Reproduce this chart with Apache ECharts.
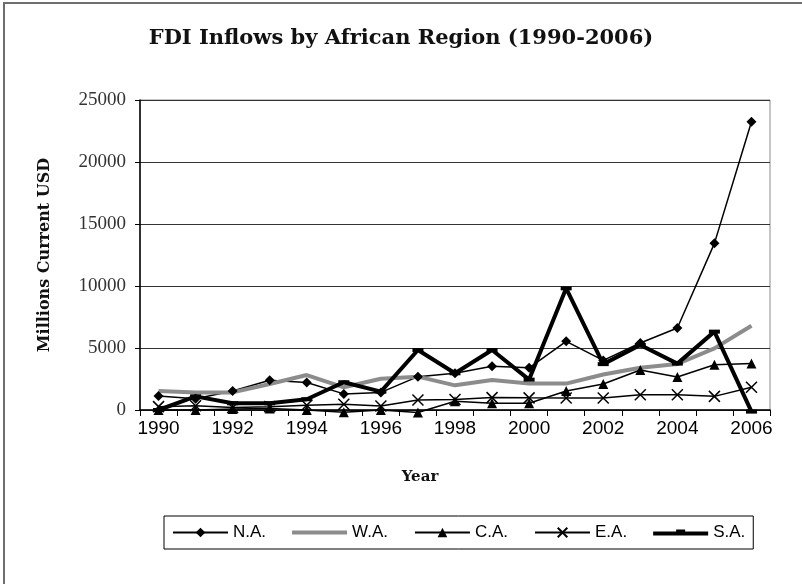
<!DOCTYPE html>
<html>
<head>
<meta charset="utf-8">
<title>FDI Inflows by African Region</title>
<script src="https://cdn.jsdelivr.net/npm/echarts@6/dist/echarts.min.js"></script>
<style>
  html, body { margin: 0; padding: 0; background: #fff; }
  #chart { width: 802px; height: 584px; }
</style>
</head>
<body>
<div id="chart"></div>
<script>
  // values (millions current USD)
  var years = ['1990', '1991', '1992', '1993', '1994', '1995', '1996', '1997', '1998',
               '1999', '2000', '2001', '2002', '2003', '2004', '2005', '2006'];
  var northAfrica = [1130, 900, 1530, 2400, 2220, 1300, 1420, 2690, 2960, 3520, 3400, 5540, 4000, 5400, 6610, 13440, 23250];
  var westAfrica = [1530, 1420, 1420, 2100, 2820, 1830, 2520, 2690, 1990, 2420, 2130, 2130, 2860, 3410, 3710, 4970, 6800];
  var centralAfrica = [0, 0, 80, 120, 0, -180, 0, -200, 700, 540, 540, 1530, 2100, 3230, 2660, 3650, 3760];
  var eastAfrica = [270, 350, 200, 270, 380, 460, 320, 800, 850, 1000, 980, 970, 970, 1230, 1230, 1100, 1830];
  var southAfrica = [0, 1100, 540, 540, 870, 2240, 1480, 4840, 2960, 4840, 2450, 9810, 3700, 5240, 3740, 6320, -130];
  var yTicks = [0, 5000, 10000, 15000, 20000, 25000];

  var serif = '"DejaVu Serif", "Liberation Serif", serif';
  var sans = '"Liberation Sans", Arial, sans-serif';
  var crossMark = 'path://M0,0L10,10M10,0L0,10';

  var chart = echarts.init(document.getElementById('chart'));

  function thinLine(name, data, symbol, size) {
    return {
      name: name,
      type: 'line',
      data: data,
      symbol: symbol,
      symbolSize: size,
      showAllSymbol: true,
      clip: false,
      lineStyle: { color: '#000', width: 1.5 },
      itemStyle: { color: '#000' },
      emphasis: { disabled: true }
    };
  }

  var eaSeries = thinLine('E.A.', eastAfrica, crossMark, 11);
  eaSeries.itemStyle = { color: 'transparent', borderColor: '#000', borderWidth: 1.5 };

  chart.setOption({
    animation: false,
    backgroundColor: '#fff',
    title: {
      text: 'FDI Inflows by African Region (1990-2006)',
      left: 'center',
      top: 23,
      textStyle: { fontFamily: serif, fontWeight: 'bold', fontSize: 21, color: '#111' }
    },
    legend: {
      left: 164,
      top: 516,
      padding: [8, 8],
      itemWidth: 55,
      itemHeight: 12,
      itemGap: 26,
      borderColor: '#000',
      borderWidth: 1,
      borderRadius: 0,
      textStyle: { fontFamily: sans, fontSize: 17, color: '#000' },
      data: [
        'N.A.',
        { name: 'W.A.', icon: 'path://M0,0H55V4H0Z' },
        'C.A.',
        'E.A.',
        { name: 'S.A.', icon: 'path://M0,2H55V6H0Z M23,0H32V2H23Z' }
      ]
    },
    grid: {
      left: 140, right: 32, top: 100, bottom: 174,
      show: true, borderColor: '#8a8a8a', borderWidth: 1
    },
    xAxis: {
      type: 'category',
      data: years,
      boundaryGap: true,
      name: 'Year',
      nameLocation: 'middle',
      nameGap: 60,
      nameTextStyle: { fontFamily: serif, fontWeight: 'bold', fontSize: 15, color: '#111', padding: [0, 70, 0, 0] },
      axisLine: { lineStyle: { color: '#000', width: 1.5 } },
      axisTick: { show: true, inside: false, length: 6, interval: 0, alignWithLabel: false, lineStyle: { color: '#000' } },
      axisLabel: { interval: 1, margin: 9, fontFamily: sans, fontSize: 19, color: '#000' },
      splitLine: { show: false }
    },
    yAxis: {
      type: 'value',
      min: yTicks[0],
      max: yTicks[yTicks.length - 1],
      interval: yTicks[1] - yTicks[0],
      name: 'Millions Current USD',
      nameLocation: 'middle',
      nameGap: 87,
      nameTextStyle: { fontFamily: serif, fontWeight: 'bold', fontSize: 16, color: '#111' },
      axisLine: { show: true, lineStyle: { color: '#000', width: 1.5 } },
      axisTick: { show: true, length: 5, lineStyle: { color: '#000' } },
      axisLabel: {
        margin: 14, fontFamily: '"Liberation Serif", serif', fontSize: 19, color: '#333',
        formatter: function (v) { return String(v); }
      },
      splitLine: { show: true, lineStyle: { color: '#333', width: 1 } }
    },
    graphic: [{
      type: 'rect',
      shape: { x: 4, y: 3, width: 900, height: 700 },
      style: { fill: 'none', stroke: '#6e6e6e', lineWidth: 2 },
      silent: true
    }],
    series: [
      thinLine('N.A.', northAfrica, 'diamond', 10),
      {
        name: 'W.A.',
        type: 'line',
        data: westAfrica,
        symbol: 'none',
        clip: false,
        lineStyle: { color: '#8c8c8c', width: 4 },
        itemStyle: { color: '#8c8c8c' },
        emphasis: { disabled: true }
      },
      thinLine('C.A.', centralAfrica, 'triangle', 10),
      eaSeries,
      {
        name: 'S.A.',
        type: 'line',
        data: southAfrica,
        symbol: 'rect',
        symbolSize: [11, 4],
        showAllSymbol: true,
        clip: false,
        lineStyle: { color: '#000', width: 4 },
        itemStyle: { color: '#000' },
        emphasis: { disabled: true }
      }
    ]
  });
</script>
</body>
</html>
